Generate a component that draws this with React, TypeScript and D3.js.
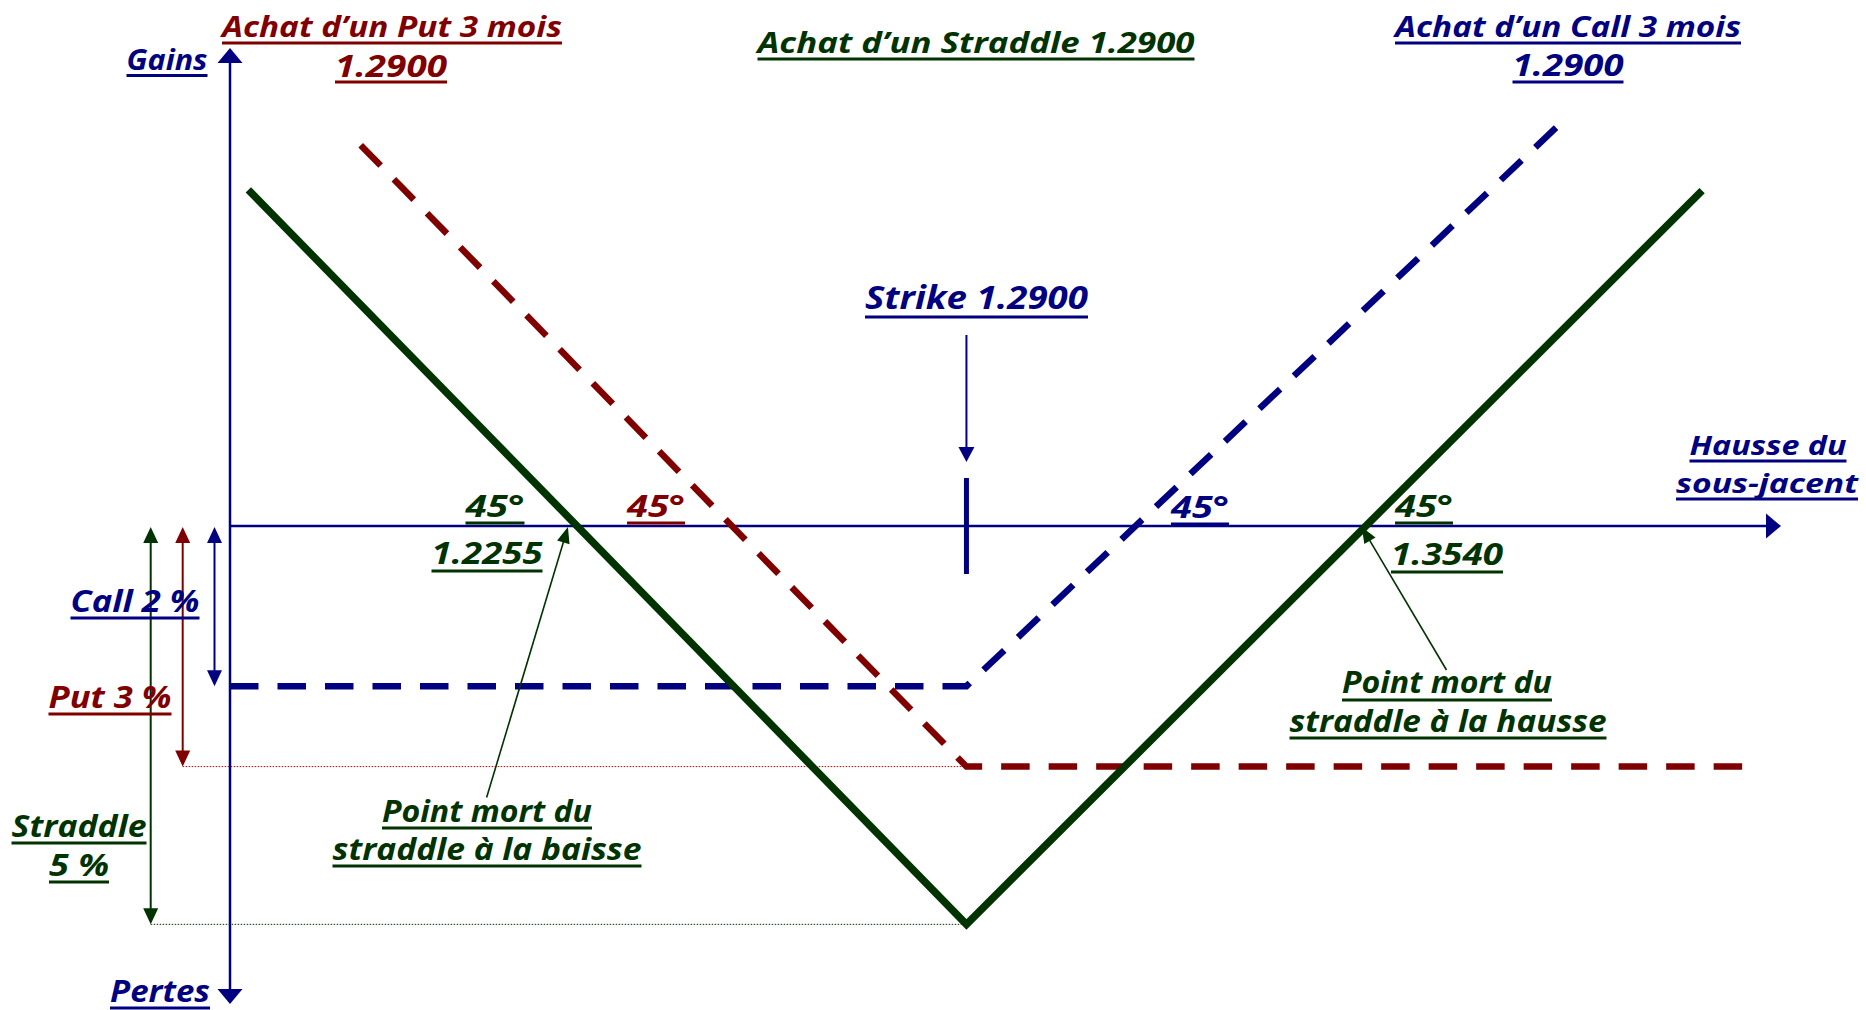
import React from "react";
import * as d3 from "d3";

// payoff at expiry: x = move of the underlying in % of the 1.2900 strike, y = gain / loss in %
const straddlePts: [number, number][] = [[-9.01, 4.22], [0, -5.0], [9.23, 4.21]];
const putPts: [number, number][] = [[-7.6, 4.78], [0, -3.02], [9.84, -3.02]];
const callPts: [number, number][] = [[-9.24, -2.01], [0, -2.01], [7.43, 5.03]];

const premiumNames = ["call", "put", "straddle"];
const premiumValues = [2.01, 3.02, 5.0];
const breakEvens = [-5.0, 4.96]; // 1.2255 / 1.3540
const strike = 0;

const xDomain = [-9.24, 10.22];
const yDomain = [-6, 6];

const RED = "#800000";
const NAVY = "#000080";
const GREEN = "#003300";
const FONT = "'Comic Sans MS', 'Open Sans', sans-serif";

const W = 1866;
const H = 1010;

function head(tx: number, ty: number, dx: number, dy: number, len: number, wid: number) {
  const n = Math.hypot(dx, dy);
  const ux = dx / n, uy = dy / n;
  const bx = tx - ux * len, by = ty - uy * len;
  const px = (-uy * wid) / 2, py = (ux * wid) / 2;
  return `${tx},${ty} ${bx + px},${by + py} ${bx - px},${by - py}`;
}

const Label = ({ t, c, x, y, w, ul, size = 31 }: any) => (
  <g>
    <text
      x={x}
      y={y}
      textAnchor="middle"
      textLength={w}
      lengthAdjust="spacingAndGlyphs"
      fill={c}
      fontFamily={FONT}
      fontWeight={700}
      fontStyle="italic"
      fontSize={size}
    >
      {t}
    </text>
    <rect x={x - w / 2} y={ul - 1.5} width={w} height={3} fill={c} />
  </g>
);

export default function App() {
  const x = d3.scaleLinear().domain(xDomain).range([230, 1781]);
  const y = d3.scaleLinear().domain(yDomain).range([1004, 48]);
  const line = d3
    .line<[number, number]>()
    .x((d) => x(d[0]))
    .y((d) => y(d[1]));

  const x0 = x(xDomain[0]);
  const y0 = y(0);
  const colors: Record<string, string> = { call: NAVY, put: RED, straddle: GREEN };
  const arrowX: Record<string, number> = { call: 214.5, put: 182.7, straddle: 150.7 };

  const labels = [
    { t: "Achat d’un Put 3 mois", c: RED, x: 392, y: 37, w: 340, ul: 43, size: 29 },
    { t: "1.2900", c: RED, x: 391, y: 77, w: 112, ul: 82, size: 31 },
    { t: "Gains", c: NAVY, x: 167, y: 70, w: 81, ul: 75.5, size: 29 },
    { t: "Achat d’un Straddle 1.2900", c: GREEN, x: 976, y: 53, w: 437, ul: 59, size: 29 },
    { t: "Achat d’un Call 3 mois", c: NAVY, x: 1568, y: 37, w: 346, ul: 43, size: 29 },
    { t: "1.2900", c: NAVY, x: 1568, y: 76, w: 111, ul: 82, size: 31 },
    { t: "Strike 1.2900", c: NAVY, x: 976.5, y: 309, w: 223, ul: 317, size: 32 },
    { t: "Hausse du", c: NAVY, x: 1768, y: 455, w: 157, ul: 461, size: 27 },
    { t: "sous-jacent", c: NAVY, x: 1767, y: 493, w: 182, ul: 499, size: 27 },
    { t: "45°", c: GREEN, x: 495, y: 517, w: 59, ul: 523 },
    { t: "1.2255", c: GREEN, x: 487, y: 564, w: 111, ul: 571 },
    { t: "45°", c: RED, x: 656, y: 517, w: 58, ul: 523 },
    { t: "45°", c: NAVY, x: 1200, y: 518, w: 58, ul: 524 },
    { t: "45°", c: GREEN, x: 1424, y: 517, w: 58, ul: 523 },
    { t: "1.3540", c: GREEN, x: 1447, y: 565, w: 112, ul: 572 },
    { t: "Point mort du", c: GREEN, x: 1447, y: 693, w: 210, ul: 700 },
    { t: "straddle à la hausse", c: GREEN, x: 1448, y: 732, w: 317, ul: 738 },
    { t: "Point mort du", c: GREEN, x: 487, y: 822, w: 210, ul: 828 },
    { t: "straddle à la baisse", c: GREEN, x: 487, y: 860, w: 309, ul: 866 },
    { t: "Call 2 %", c: NAVY, x: 135, y: 612, w: 129, ul: 618 },
    { t: "Put 3 %", c: RED, x: 110, y: 708, w: 123, ul: 714 },
    { t: "Straddle", c: GREEN, x: 79, y: 837, w: 135, ul: 843 },
    { t: "5 %", c: GREEN, x: 79, y: 876, w: 60, ul: 882 },
    { t: "Pertes", c: NAVY, x: 160, y: 1002, w: 100, ul: 1008 },
  ];

  return (
    <svg
      width={W}
      height={H}
      style={{ position: "fixed", left: 0, top: 0, background: "#fff" }}
    >
      {/* dotted premium levels */}
      <line x1={arrowX.put} x2={x(strike)} y1={y(-premiumValues[1])} y2={y(-premiumValues[1])}
        stroke="#c00000" strokeWidth={1} strokeDasharray="1.5,1.5" />
      <line x1={arrowX.straddle} x2={x(strike)} y1={y(-premiumValues[2])} y2={y(-premiumValues[2])}
        stroke={GREEN} strokeWidth={1} strokeDasharray="1.5,1.5" />

      {/* axes */}
      <line x1={x0} x2={x0} y1={y(yDomain[1]) + 14} y2={y(yDomain[0]) - 14} stroke={NAVY} strokeWidth={2.5} />
      <polygon points={head(x0, y(yDomain[1]), 0, -1, 15, 25)} fill={NAVY} />
      <polygon points={head(x0, y(yDomain[0]), 0, 1, 15, 25)} fill={NAVY} />
      <line x1={x0} x2={x(xDomain[1]) - 14} y1={y0} y2={y0} stroke={NAVY} strokeWidth={2.5} />
      <polygon points={head(x(xDomain[1]), y0, 1, 0, 15, 25)} fill={NAVY} />

      {/* premium double arrows */}
      {premiumNames.map((n, i) => {
        const ax = arrowX[n];
        const yb = y(-premiumValues[i]);
        return (
          <g key={n}>
            <line x1={ax} x2={ax} y1={y0 + 14} y2={yb - 14} stroke={colors[n]} strokeWidth={2} />
            <polygon points={head(ax, y0 + 1, 0, -1, 16, 15)} fill={colors[n]} />
            <polygon points={head(ax, yb, 0, 1, 16, 15)} fill={colors[n]} />
          </g>
        );
      })}

      {/* strike */}
      <line x1={x(strike)} x2={x(strike)} y1={478} y2={574} stroke={NAVY} strokeWidth={5} />
      <line x1={x(strike)} x2={x(strike)} y1={335} y2={448} stroke={NAVY} strokeWidth={2} />
      <polygon points={head(x(strike), 462, 0, 1, 15, 16)} fill={NAVY} />

      {/* payoff lines */}
      <path d={line(putPts) || ""} fill="none" stroke={RED} strokeWidth={6.5} strokeDasharray="28.5,19" />
      <path d={line(callPts) || ""} fill="none" stroke={NAVY} strokeWidth={6.5} strokeDasharray="28.5,19" />
      <path d={line(straddlePts) || ""} fill="none" stroke={GREEN} strokeWidth={7.5} strokeLinejoin="miter" />

      {/* break-even annotations */}
      {[
        { from: [486.6, 797.6], be: breakEvens[0] },
        { from: [1446.5, 670], be: breakEvens[1] },
      ].map((a, i) => {
        const tx = x(a.be), ty = y0 + 1;
        const dx = tx - a.from[0], dy = ty - a.from[1];
        const n = Math.hypot(dx, dy);
        return (
          <g key={i}>
            <line x1={a.from[0]} y1={a.from[1]} x2={tx - (dx / n) * 12} y2={ty - (dy / n) * 12}
              stroke={GREEN} strokeWidth={1.6} />
            <polygon points={head(tx, ty, dx, dy, 16, 13)} fill={GREEN} />
          </g>
        );
      })}

      {labels.map((l, i) => (
        <Label key={i} {...l} />
      ))}
    </svg>
  );
}
